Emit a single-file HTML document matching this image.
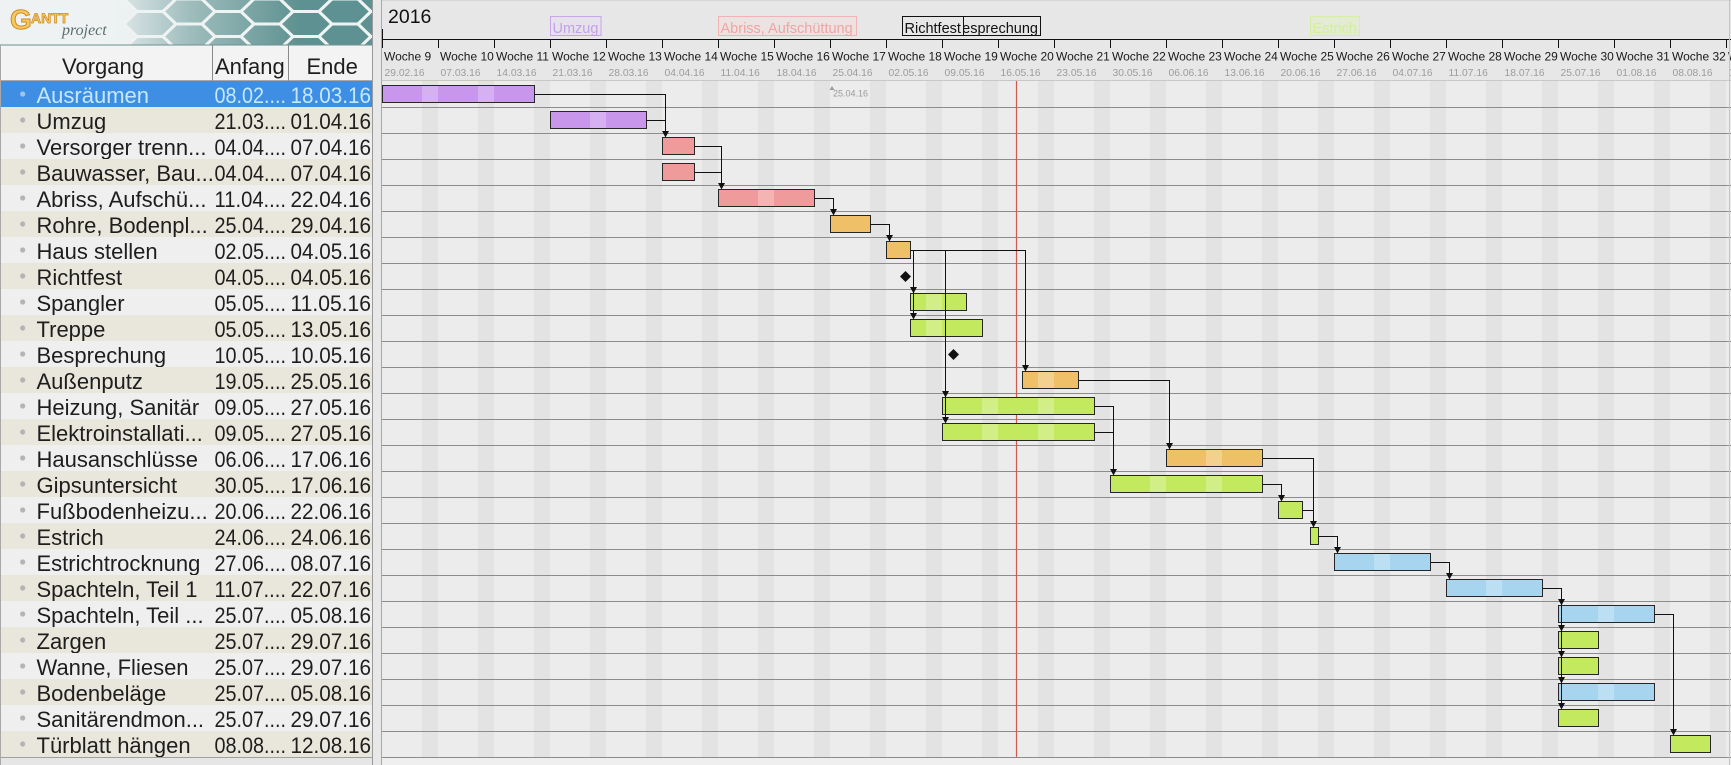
<!DOCTYPE html>
<html><head><meta charset="utf-8"><style>
html,body{margin:0;padding:0;background:#e9e9e9;overflow:hidden}
svg{display:block}
</style></head><body>
<svg width="1731" height="765" xmlns="http://www.w3.org/2000/svg" xmlns:xlink="http://www.w3.org/1999/xlink" font-family="'Liberation Sans', Arial, sans-serif">
<defs>
<linearGradient id="lg" x1="0" y1="0" x2="373" y2="0" gradientUnits="userSpaceOnUse">
<stop offset="0" stop-color="#eef2f2"/><stop offset="0.35" stop-color="#e2eaea"/><stop offset="1" stop-color="#c9d9d9"/></linearGradient>
<linearGradient id="fade" x1="100" y1="0" x2="300" y2="0" gradientUnits="userSpaceOnUse">
<stop offset="0" stop-color="#eef2f2" stop-opacity="1"/><stop offset="0.45" stop-color="#eef2f2" stop-opacity="0.45"/><stop offset="1" stop-color="#eef2f2" stop-opacity="0"/></linearGradient>
<polygon id="hx" points="-26,0 -13,-12.5 13,-12.5 26,0 13,12.5 -13,12.5"/>
<clipPath id="logoclip"><rect x="0" y="0" width="372" height="45"/></clipPath>
<clipPath id="bc">
<rect x="382" y="85" width="152" height="18"/>
<rect x="550" y="111" width="96" height="18"/>
<rect x="662" y="137" width="32" height="18"/>
<rect x="662" y="163" width="32" height="18"/>
<rect x="718" y="189" width="96" height="18"/>
<rect x="830" y="215" width="40" height="18"/>
<rect x="886" y="241" width="24" height="18"/>
<rect x="910" y="293" width="56" height="18"/>
<rect x="910" y="319" width="72" height="18"/>
<rect x="1022" y="371" width="56" height="18"/>
<rect x="942" y="397" width="152" height="18"/>
<rect x="942" y="423" width="152" height="18"/>
<rect x="1166" y="449" width="96" height="18"/>
<rect x="1110" y="475" width="152" height="18"/>
<rect x="1334" y="553" width="96" height="18"/>
<rect x="1446" y="579" width="96" height="18"/>
<rect x="1558" y="605" width="96" height="18"/>
<rect x="1558" y="683" width="96" height="18"/>
</clipPath>
<clipPath id="chartclip"><rect x="382" y="0" width="1349" height="765"/></clipPath>
</defs>

<!-- chart header -->
<rect x="373" y="0" width="1358" height="81" fill="#e7e7e7"/>
<line x1="373" y1="0.5" x2="1731" y2="0.5" stroke="#d6d6d6"/>
<!-- chart body -->
<rect x="382" y="81" width="1349" height="677" fill="#ececec"/>
<g fill="#e3e3e3">
<rect x="422" y="81" width="16" height="677"/><rect x="478" y="81" width="16" height="677"/><rect x="534" y="81" width="16" height="677"/><rect x="590" y="81" width="16" height="677"/><rect x="646" y="81" width="16" height="677"/><rect x="702" y="81" width="16" height="677"/><rect x="758" y="81" width="16" height="677"/><rect x="814" y="81" width="16" height="677"/><rect x="870" y="81" width="16" height="677"/><rect x="926" y="81" width="16" height="677"/><rect x="982" y="81" width="16" height="677"/><rect x="1038" y="81" width="16" height="677"/><rect x="1094" y="81" width="16" height="677"/><rect x="1150" y="81" width="16" height="677"/><rect x="1206" y="81" width="16" height="677"/><rect x="1262" y="81" width="16" height="677"/><rect x="1318" y="81" width="16" height="677"/><rect x="1374" y="81" width="16" height="677"/><rect x="1430" y="81" width="16" height="677"/><rect x="1486" y="81" width="16" height="677"/><rect x="1542" y="81" width="16" height="677"/><rect x="1598" y="81" width="16" height="677"/><rect x="1654" y="81" width="16" height="677"/><rect x="1710" y="81" width="16" height="677"/>
</g>
<rect x="382" y="758" width="1349" height="7" fill="#efefef"/>
<!-- row lines -->
<g stroke="#8c8c8c" stroke-width="1">
<line x1="382" y1="107.5" x2="1731" y2="107.5"/><line x1="382" y1="133.5" x2="1731" y2="133.5"/><line x1="382" y1="159.5" x2="1731" y2="159.5"/><line x1="382" y1="185.5" x2="1731" y2="185.5"/><line x1="382" y1="211.5" x2="1731" y2="211.5"/><line x1="382" y1="237.5" x2="1731" y2="237.5"/><line x1="382" y1="263.5" x2="1731" y2="263.5"/><line x1="382" y1="289.5" x2="1731" y2="289.5"/><line x1="382" y1="315.5" x2="1731" y2="315.5"/><line x1="382" y1="341.5" x2="1731" y2="341.5"/><line x1="382" y1="367.5" x2="1731" y2="367.5"/><line x1="382" y1="393.5" x2="1731" y2="393.5"/><line x1="382" y1="419.5" x2="1731" y2="419.5"/><line x1="382" y1="445.5" x2="1731" y2="445.5"/><line x1="382" y1="471.5" x2="1731" y2="471.5"/><line x1="382" y1="497.5" x2="1731" y2="497.5"/><line x1="382" y1="523.5" x2="1731" y2="523.5"/><line x1="382" y1="549.5" x2="1731" y2="549.5"/><line x1="382" y1="575.5" x2="1731" y2="575.5"/><line x1="382" y1="601.5" x2="1731" y2="601.5"/><line x1="382" y1="627.5" x2="1731" y2="627.5"/><line x1="382" y1="653.5" x2="1731" y2="653.5"/><line x1="382" y1="679.5" x2="1731" y2="679.5"/><line x1="382" y1="705.5" x2="1731" y2="705.5"/><line x1="382" y1="731.5" x2="1731" y2="731.5"/><line x1="382" y1="757.5" x2="1731" y2="757.5"/>
</g>
<line x1="382" y1="80.5" x2="1731" y2="80.5" stroke="#c8c8c8"/>

<!-- header timeline -->
<text x="388" y="23" font-size="19.5" fill="#111">2016</text>
<g stroke="#111" stroke-width="1">
<line x1="382" y1="39.5" x2="1731" y2="39.5"/>
<line x1="382.5" y1="29" x2="382.5" y2="48"/>
<line x1="438.5" y1="39.5" x2="438.5" y2="48"/><line x1="494.5" y1="39.5" x2="494.5" y2="48"/><line x1="550.5" y1="39.5" x2="550.5" y2="48"/><line x1="606.5" y1="39.5" x2="606.5" y2="48"/><line x1="662.5" y1="39.5" x2="662.5" y2="48"/><line x1="718.5" y1="39.5" x2="718.5" y2="48"/><line x1="774.5" y1="39.5" x2="774.5" y2="48"/><line x1="830.5" y1="39.5" x2="830.5" y2="48"/><line x1="886.5" y1="39.5" x2="886.5" y2="48"/><line x1="942.5" y1="39.5" x2="942.5" y2="48"/><line x1="998.5" y1="39.5" x2="998.5" y2="48"/><line x1="1054.5" y1="39.5" x2="1054.5" y2="48"/><line x1="1110.5" y1="39.5" x2="1110.5" y2="48"/><line x1="1166.5" y1="39.5" x2="1166.5" y2="48"/><line x1="1222.5" y1="39.5" x2="1222.5" y2="48"/><line x1="1278.5" y1="39.5" x2="1278.5" y2="48"/><line x1="1334.5" y1="39.5" x2="1334.5" y2="48"/><line x1="1390.5" y1="39.5" x2="1390.5" y2="48"/><line x1="1446.5" y1="39.5" x2="1446.5" y2="48"/><line x1="1502.5" y1="39.5" x2="1502.5" y2="48"/><line x1="1558.5" y1="39.5" x2="1558.5" y2="48"/><line x1="1614.5" y1="39.5" x2="1614.5" y2="48"/><line x1="1670.5" y1="39.5" x2="1670.5" y2="48"/><line x1="1726.5" y1="39.5" x2="1726.5" y2="48"/>
</g>
<g clip-path="url(#chartclip)">
<g font-size="12" fill="#1a1a1a">
<text x="384" y="60.5">Woche 9</text><text x="440" y="60.5">Woche 10</text><text x="496" y="60.5">Woche 11</text><text x="552" y="60.5">Woche 12</text><text x="608" y="60.5">Woche 13</text><text x="664" y="60.5">Woche 14</text><text x="720" y="60.5">Woche 15</text><text x="776" y="60.5">Woche 16</text><text x="832" y="60.5">Woche 17</text><text x="888" y="60.5">Woche 18</text><text x="944" y="60.5">Woche 19</text><text x="1000" y="60.5">Woche 20</text><text x="1056" y="60.5">Woche 21</text><text x="1112" y="60.5">Woche 22</text><text x="1168" y="60.5">Woche 23</text><text x="1224" y="60.5">Woche 24</text><text x="1280" y="60.5">Woche 25</text><text x="1336" y="60.5">Woche 26</text><text x="1392" y="60.5">Woche 27</text><text x="1448" y="60.5">Woche 28</text><text x="1504" y="60.5">Woche 29</text><text x="1560" y="60.5">Woche 30</text><text x="1616" y="60.5">Woche 31</text><text x="1672" y="60.5">Woche 32</text><text x="1728" y="60.5">Woche 33</text>
</g>
<g font-size="10.3" fill="#9c9c9c">
<text x="384.5" y="76">29.02.16</text><text x="440.5" y="76">07.03.16</text><text x="496.5" y="76">14.03.16</text><text x="552.5" y="76">21.03.16</text><text x="608.5" y="76">28.03.16</text><text x="664.5" y="76">04.04.16</text><text x="720.5" y="76">11.04.16</text><text x="776.5" y="76">18.04.16</text><text x="832.5" y="76">25.04.16</text><text x="888.5" y="76">02.05.16</text><text x="944.5" y="76">09.05.16</text><text x="1000.5" y="76">16.05.16</text><text x="1056.5" y="76">23.05.16</text><text x="1112.5" y="76">30.05.16</text><text x="1168.5" y="76">06.06.16</text><text x="1224.5" y="76">13.06.16</text><text x="1280.5" y="76">20.06.16</text><text x="1336.5" y="76">27.06.16</text><text x="1392.5" y="76">04.07.16</text><text x="1448.5" y="76">11.07.16</text><text x="1504.5" y="76">18.07.16</text><text x="1560.5" y="76">25.07.16</text><text x="1616.5" y="76">01.08.16</text><text x="1672.5" y="76">08.08.16</text><text x="1728.5" y="76">15.08.16</text>
</g>
</g>

<!-- header task labels -->
<g font-size="14.5">
<rect x="550.5" y="16.5" width="50.5" height="19" fill="#e6e2ec" stroke="#c9a6ea"/>
<text x="552.5" y="33" fill="#c4a0e6">Umzug</text>
<rect x="718.5" y="16.5" width="138" height="19" fill="#ece2e2" stroke="#f0b4b4"/>
<text x="720.5" y="33" fill="#f0a4a4">Abriss, Aufschüttung</text>
<rect x="950.5" y="16.5" width="90" height="19" fill="#e7e7e7" stroke="#111"/>
<text x="952.5" y="33" fill="#111">Besprechung</text>
<rect x="902.5" y="16.5" width="61" height="19" fill="#e7e7e7" stroke="#111"/>
<text x="904.5" y="33" fill="#111">Richtfest</text>
<rect x="1310.5" y="16.5" width="49" height="19" fill="#e3ebd3" stroke="#d6eea6"/>
<text x="1312.5" y="33" fill="#d2f09c">Estrich</text>
</g>

<!-- 25.04.16 marker -->
<polygon points="829.5,90 832,86 834.5,90" fill="#9a9a9a"/>
<text x="833" y="96.5" font-size="9" fill="#9a9a9a">25.04.16</text>

<!-- today line -->
<line x1="1016.5" y1="81" x2="1016.5" y2="757" stroke="#cf5a4e" stroke-width="1.2"/>

<!-- bars fill -->
<g>
<rect x="382" y="85" width="152" height="18" fill="#c897ec"/>
<rect x="550" y="111" width="96" height="18" fill="#c897ec"/>
<rect x="662" y="137" width="32" height="18" fill="#f09b9b"/>
<rect x="662" y="163" width="32" height="18" fill="#f09b9b"/>
<rect x="718" y="189" width="96" height="18" fill="#f09b9b"/>
<rect x="830" y="215" width="40" height="18" fill="#f0c068"/>
<rect x="886" y="241" width="24" height="18" fill="#f0c068"/>
<rect x="910" y="293" width="56" height="18" fill="#c3ea5f"/>
<rect x="910" y="319" width="72" height="18" fill="#c3ea5f"/>
<rect x="1022" y="371" width="56" height="18" fill="#f0c068"/>
<rect x="942" y="397" width="152" height="18" fill="#c3ea5f"/>
<rect x="942" y="423" width="152" height="18" fill="#c3ea5f"/>
<rect x="1166" y="449" width="96" height="18" fill="#f0c068"/>
<rect x="1110" y="475" width="152" height="18" fill="#c3ea5f"/>
<rect x="1278" y="501" width="24" height="18" fill="#c3ea5f"/>
<rect x="1310" y="527" width="8" height="18" fill="#c3ea5f"/>
<rect x="1334" y="553" width="96" height="18" fill="#a7d5ef"/>
<rect x="1446" y="579" width="96" height="18" fill="#a7d5ef"/>
<rect x="1558" y="605" width="96" height="18" fill="#a7d5ef"/>
<rect x="1558" y="631" width="40" height="18" fill="#c3ea5f"/>
<rect x="1558" y="657" width="40" height="18" fill="#c3ea5f"/>
<rect x="1558" y="683" width="96" height="18" fill="#a7d5ef"/>
<rect x="1558" y="709" width="40" height="18" fill="#c3ea5f"/>
<rect x="1670" y="735" width="40" height="18" fill="#c3ea5f"/>
</g>
<g clip-path="url(#bc)" fill="#ffffff" fill-opacity="0.25">
<rect x="422" y="81" width="16" height="677"/><rect x="478" y="81" width="16" height="677"/><rect x="590" y="81" width="16" height="677"/><rect x="758" y="81" width="16" height="677"/><rect x="926" y="81" width="16" height="677"/><rect x="982" y="81" width="16" height="677"/><rect x="1038" y="81" width="16" height="677"/><rect x="1150" y="81" width="16" height="677"/><rect x="1206" y="81" width="16" height="677"/><rect x="1374" y="81" width="16" height="677"/><rect x="1486" y="81" width="16" height="677"/><rect x="1598" y="81" width="16" height="677"/>
</g>
<g fill="none" stroke="#262626" stroke-width="1">
<rect x="382.5" y="85.5" width="152" height="17"/>
<rect x="550.5" y="111.5" width="96" height="17"/>
<rect x="662.5" y="137.5" width="32" height="17"/>
<rect x="662.5" y="163.5" width="32" height="17"/>
<rect x="718.5" y="189.5" width="96" height="17"/>
<rect x="830.5" y="215.5" width="40" height="17"/>
<rect x="886.5" y="241.5" width="24" height="17"/>
<rect x="910.5" y="293.5" width="56" height="17"/>
<rect x="910.5" y="319.5" width="72" height="17"/>
<rect x="1022.5" y="371.5" width="56" height="17"/>
<rect x="942.5" y="397.5" width="152" height="17"/>
<rect x="942.5" y="423.5" width="152" height="17"/>
<rect x="1166.5" y="449.5" width="96" height="17"/>
<rect x="1110.5" y="475.5" width="152" height="17"/>
<rect x="1278.5" y="501.5" width="24" height="17"/>
<rect x="1310.5" y="527.5" width="8" height="17"/>
<rect x="1334.5" y="553.5" width="96" height="17"/>
<rect x="1446.5" y="579.5" width="96" height="17"/>
<rect x="1558.5" y="605.5" width="96" height="17"/>
<rect x="1558.5" y="631.5" width="40" height="17"/>
<rect x="1558.5" y="657.5" width="40" height="17"/>
<rect x="1558.5" y="683.5" width="96" height="17"/>
<rect x="1558.5" y="709.5" width="40" height="17"/>
<rect x="1670.5" y="735.5" width="40" height="17"/>
</g>

<!-- dependencies -->
<g fill="none" stroke="#111" stroke-width="1">
<path d="M534.5,94.5H665.5V132"/>
<path d="M646.5,120.5H665.5"/>
<path d="M694.5,146.5H721.5V184"/>
<path d="M694.5,172.5H721.5"/>
<path d="M814.5,198.5H833.5V210"/>
<path d="M870.5,224.5H889.5V236"/>
<path d="M910.5,250.5H1025.5V366"/>
<path d="M913.5,250.5V314"/>
<path d="M945.5,250.5V418"/>
<path d="M1078.5,380.5H1169.5V444"/>
<path d="M1094.5,406.5H1113.5V470"/>
<path d="M1094.5,432.5H1113.5"/>
<path d="M1262.5,484.5H1281.5V496"/>
<path d="M1262.5,458.5H1313.5V522"/>
<path d="M1302.5,510.5H1313.5"/>
<path d="M1318.5,536.5H1337.5V548"/>
<path d="M1430.5,562.5H1449.5V574"/>
<path d="M1542.5,588.5H1561.5V704"/>
<path d="M1654.5,614.5H1673.5V730"/>
</g>
<g fill="#111">
<polygon points="662,131 669,131 665.5,137.5"/>
<polygon points="718,183 725,183 721.5,189.5"/>
<polygon points="830,209 837,209 833.5,215.5"/>
<polygon points="886,235 893,235 889.5,241.5"/>
<polygon points="910,287 917,287 913.5,293.5"/>
<polygon points="910,313 917,313 913.5,319.5"/>
<polygon points="1022,365 1029,365 1025.5,371.5"/>
<polygon points="942,391 949,391 945.5,397.5"/>
<polygon points="942,417 949,417 945.5,423.5"/>
<polygon points="1166,443 1173,443 1169.5,449.5"/>
<polygon points="1110,469 1117,469 1113.5,475.5"/>
<polygon points="1278,495 1285,495 1281.5,501.5"/>
<polygon points="1310,521 1317,521 1313.5,527.5"/>
<polygon points="1334,547 1341,547 1337.5,553.5"/>
<polygon points="1446,573 1453,573 1449.5,579.5"/>
<polygon points="1558,599 1565,599 1561.5,605.5"/>
<polygon points="1558,625 1565,625 1561.5,631.5"/>
<polygon points="1558,651 1565,651 1561.5,657.5"/>
<polygon points="1558,677 1565,677 1561.5,683.5"/>
<polygon points="1558,703 1565,703 1561.5,709.5"/>
<polygon points="1670,729 1677,729 1673.5,735.5"/>
</g>
<!-- milestones -->
<g fill="#111">
<polygon points="905.5,271 911,276.5 905.5,282 900,276.5"/>
<polygon points="953.5,349 959,354.5 953.5,360 948,354.5"/>
</g>
<line x1="1729.5" y1="0" x2="1729.5" y2="765" stroke="#c4c4c4"/>

<!-- separator strip -->
<rect x="372" y="0" width="10" height="765" fill="#e8e8e8"/>
<line x1="381.5" y1="0" x2="381.5" y2="765" stroke="#a8a8a8"/>
<line x1="372.5" y1="0" x2="372.5" y2="765" stroke="#9a9a9a"/>

<!-- left panel: logo -->
<g clip-path="url(#logoclip)">
<rect x="0" y="0" width="372" height="45" fill="url(#lg)"/>
<g fill="#5e9191" stroke="#eef3f3" stroke-width="3">
<use xlink:href="#hx" x="150" y="-1"/><use xlink:href="#hx" x="150" y="24"/><use xlink:href="#hx" x="150" y="49"/>
<use xlink:href="#hx" x="189" y="11.5"/><use xlink:href="#hx" x="189" y="36.5"/>
<use xlink:href="#hx" x="228" y="-1"/><use xlink:href="#hx" x="228" y="24"/><use xlink:href="#hx" x="228" y="49"/>
<use xlink:href="#hx" x="267" y="11.5"/><use xlink:href="#hx" x="267" y="36.5"/>
<use xlink:href="#hx" x="306" y="-1"/><use xlink:href="#hx" x="306" y="24"/><use xlink:href="#hx" x="306" y="49"/>
<use xlink:href="#hx" x="345" y="11.5"/><use xlink:href="#hx" x="345" y="36.5"/>
<use xlink:href="#hx" x="384" y="-1"/><use xlink:href="#hx" x="384" y="24"/><use xlink:href="#hx" x="384" y="49"/>
</g>
<rect x="0" y="0" width="372" height="45" fill="url(#fade)"/>
<text x="10" y="29" font-size="28" font-weight="bold" fill="#f6c860" stroke="#d08a20" stroke-width="1">G</text>
<text x="31" y="23" font-size="14" font-weight="bold" fill="#f6c860" stroke="#d08a20" stroke-width="0.7">ANTT</text>
<text x="62" y="35" font-size="16" font-style="italic" font-family="'Liberation Serif', serif" fill="#5c6e6e">project</text>
</g>
<line x1="0" y1="45" x2="372" y2="45" stroke="#6d8f8f"/>

<!-- left panel table header -->
<rect x="0" y="45.5" width="372" height="35" fill="#f3f3f3"/>
<line x1="0" y1="80.5" x2="372" y2="80.5" stroke="#a8a8a8"/>
<line x1="212.5" y1="45.5" x2="212.5" y2="80.5" stroke="#8a8a8a"/>
<line x1="288.5" y1="45.5" x2="288.5" y2="80.5" stroke="#8a8a8a"/>
<g font-size="22" fill="#1e1e1e">
<text x="62" y="74">Vorgang</text>
<text x="215" y="74">Anfang</text>
<text x="306.5" y="74">Ende</text>
</g>

<!-- rows -->
<g font-size="22" fill="#1e1e1e">
<rect x="1" y="81" width="371" height="26" fill="#3e8fe3"/>
<circle cx="22.7" cy="94" r="2.6" fill="#9cc6ee"/>
<text x="36.5" y="103" fill="#c4e8ff">Ausräumen</text><text x="214.5" y="103" fill="#c4e8ff" textLength="71.5" lengthAdjust="spacingAndGlyphs">08.02....</text><text x="290.5" y="103" fill="#c4e8ff" textLength="80.5" lengthAdjust="spacingAndGlyphs">18.03.16</text>

<rect x="1" y="107" width="371" height="26" fill="#e9e7db"/>
<circle cx="22.7" cy="120" r="2.6" fill="#b4b4b4"/>
<text x="36.5" y="129">Umzug</text><text x="214.5" y="129" textLength="71.5" lengthAdjust="spacingAndGlyphs">21.03....</text><text x="290.5" y="129" textLength="80.5" lengthAdjust="spacingAndGlyphs">01.04.16</text>

<rect x="1" y="133" width="371" height="26" fill="#efeff0"/>
<circle cx="22.7" cy="146" r="2.6" fill="#b4b4b4"/>
<text x="36.5" y="155">Versorger trenn...</text><text x="214.5" y="155" textLength="71.5" lengthAdjust="spacingAndGlyphs">04.04....</text><text x="290.5" y="155" textLength="80.5" lengthAdjust="spacingAndGlyphs">07.04.16</text>

<rect x="1" y="159" width="371" height="26" fill="#e9e7db"/>
<circle cx="22.7" cy="172" r="2.6" fill="#b4b4b4"/>
<text x="36.5" y="181">Bauwasser, Bau...</text><text x="214.5" y="181" textLength="71.5" lengthAdjust="spacingAndGlyphs">04.04....</text><text x="290.5" y="181" textLength="80.5" lengthAdjust="spacingAndGlyphs">07.04.16</text>

<rect x="1" y="185" width="371" height="26" fill="#efeff0"/>
<circle cx="22.7" cy="198" r="2.6" fill="#b4b4b4"/>
<text x="36.5" y="207">Abriss, Aufschü...</text><text x="214.5" y="207" textLength="71.5" lengthAdjust="spacingAndGlyphs">11.04....</text><text x="290.5" y="207" textLength="80.5" lengthAdjust="spacingAndGlyphs">22.04.16</text>

<rect x="1" y="211" width="371" height="26" fill="#e9e7db"/>
<circle cx="22.7" cy="224" r="2.6" fill="#b4b4b4"/>
<text x="36.5" y="233">Rohre, Bodenpl...</text><text x="214.5" y="233" textLength="71.5" lengthAdjust="spacingAndGlyphs">25.04....</text><text x="290.5" y="233" textLength="80.5" lengthAdjust="spacingAndGlyphs">29.04.16</text>

<rect x="1" y="237" width="371" height="26" fill="#efeff0"/>
<circle cx="22.7" cy="250" r="2.6" fill="#b4b4b4"/>
<text x="36.5" y="259">Haus stellen</text><text x="214.5" y="259" textLength="71.5" lengthAdjust="spacingAndGlyphs">02.05....</text><text x="290.5" y="259" textLength="80.5" lengthAdjust="spacingAndGlyphs">04.05.16</text>

<rect x="1" y="263" width="371" height="26" fill="#e9e7db"/>
<circle cx="22.7" cy="276" r="2.6" fill="#b4b4b4"/>
<text x="36.5" y="285">Richtfest</text><text x="214.5" y="285" textLength="71.5" lengthAdjust="spacingAndGlyphs">04.05....</text><text x="290.5" y="285" textLength="80.5" lengthAdjust="spacingAndGlyphs">04.05.16</text>

<rect x="1" y="289" width="371" height="26" fill="#efeff0"/>
<circle cx="22.7" cy="302" r="2.6" fill="#b4b4b4"/>
<text x="36.5" y="311">Spangler</text><text x="214.5" y="311" textLength="71.5" lengthAdjust="spacingAndGlyphs">05.05....</text><text x="290.5" y="311" textLength="80.5" lengthAdjust="spacingAndGlyphs">11.05.16</text>

<rect x="1" y="315" width="371" height="26" fill="#e9e7db"/>
<circle cx="22.7" cy="328" r="2.6" fill="#b4b4b4"/>
<text x="36.5" y="337">Treppe</text><text x="214.5" y="337" textLength="71.5" lengthAdjust="spacingAndGlyphs">05.05....</text><text x="290.5" y="337" textLength="80.5" lengthAdjust="spacingAndGlyphs">13.05.16</text>

<rect x="1" y="341" width="371" height="26" fill="#efeff0"/>
<circle cx="22.7" cy="354" r="2.6" fill="#b4b4b4"/>
<text x="36.5" y="363">Besprechung</text><text x="214.5" y="363" textLength="71.5" lengthAdjust="spacingAndGlyphs">10.05....</text><text x="290.5" y="363" textLength="80.5" lengthAdjust="spacingAndGlyphs">10.05.16</text>

<rect x="1" y="367" width="371" height="26" fill="#e9e7db"/>
<circle cx="22.7" cy="380" r="2.6" fill="#b4b4b4"/>
<text x="36.5" y="389">Außenputz</text><text x="214.5" y="389" textLength="71.5" lengthAdjust="spacingAndGlyphs">19.05....</text><text x="290.5" y="389" textLength="80.5" lengthAdjust="spacingAndGlyphs">25.05.16</text>

<rect x="1" y="393" width="371" height="26" fill="#efeff0"/>
<circle cx="22.7" cy="406" r="2.6" fill="#b4b4b4"/>
<text x="36.5" y="415">Heizung, Sanitär</text><text x="214.5" y="415" textLength="71.5" lengthAdjust="spacingAndGlyphs">09.05....</text><text x="290.5" y="415" textLength="80.5" lengthAdjust="spacingAndGlyphs">27.05.16</text>

<rect x="1" y="419" width="371" height="26" fill="#e9e7db"/>
<circle cx="22.7" cy="432" r="2.6" fill="#b4b4b4"/>
<text x="36.5" y="441">Elektroinstallati...</text><text x="214.5" y="441" textLength="71.5" lengthAdjust="spacingAndGlyphs">09.05....</text><text x="290.5" y="441" textLength="80.5" lengthAdjust="spacingAndGlyphs">27.05.16</text>

<rect x="1" y="445" width="371" height="26" fill="#efeff0"/>
<circle cx="22.7" cy="458" r="2.6" fill="#b4b4b4"/>
<text x="36.5" y="467">Hausanschlüsse</text><text x="214.5" y="467" textLength="71.5" lengthAdjust="spacingAndGlyphs">06.06....</text><text x="290.5" y="467" textLength="80.5" lengthAdjust="spacingAndGlyphs">17.06.16</text>

<rect x="1" y="471" width="371" height="26" fill="#e9e7db"/>
<circle cx="22.7" cy="484" r="2.6" fill="#b4b4b4"/>
<text x="36.5" y="493">Gipsuntersicht</text><text x="214.5" y="493" textLength="71.5" lengthAdjust="spacingAndGlyphs">30.05....</text><text x="290.5" y="493" textLength="80.5" lengthAdjust="spacingAndGlyphs">17.06.16</text>

<rect x="1" y="497" width="371" height="26" fill="#efeff0"/>
<circle cx="22.7" cy="510" r="2.6" fill="#b4b4b4"/>
<text x="36.5" y="519">Fußbodenheizu...</text><text x="214.5" y="519" textLength="71.5" lengthAdjust="spacingAndGlyphs">20.06....</text><text x="290.5" y="519" textLength="80.5" lengthAdjust="spacingAndGlyphs">22.06.16</text>

<rect x="1" y="523" width="371" height="26" fill="#e9e7db"/>
<circle cx="22.7" cy="536" r="2.6" fill="#b4b4b4"/>
<text x="36.5" y="545">Estrich</text><text x="214.5" y="545" textLength="71.5" lengthAdjust="spacingAndGlyphs">24.06....</text><text x="290.5" y="545" textLength="80.5" lengthAdjust="spacingAndGlyphs">24.06.16</text>

<rect x="1" y="549" width="371" height="26" fill="#efeff0"/>
<circle cx="22.7" cy="562" r="2.6" fill="#b4b4b4"/>
<text x="36.5" y="571">Estrichtrocknung</text><text x="214.5" y="571" textLength="71.5" lengthAdjust="spacingAndGlyphs">27.06....</text><text x="290.5" y="571" textLength="80.5" lengthAdjust="spacingAndGlyphs">08.07.16</text>

<rect x="1" y="575" width="371" height="26" fill="#e9e7db"/>
<circle cx="22.7" cy="588" r="2.6" fill="#b4b4b4"/>
<text x="36.5" y="597">Spachteln, Teil 1</text><text x="214.5" y="597" textLength="71.5" lengthAdjust="spacingAndGlyphs">11.07....</text><text x="290.5" y="597" textLength="80.5" lengthAdjust="spacingAndGlyphs">22.07.16</text>

<rect x="1" y="601" width="371" height="26" fill="#efeff0"/>
<circle cx="22.7" cy="614" r="2.6" fill="#b4b4b4"/>
<text x="36.5" y="623">Spachteln, Teil ...</text><text x="214.5" y="623" textLength="71.5" lengthAdjust="spacingAndGlyphs">25.07....</text><text x="290.5" y="623" textLength="80.5" lengthAdjust="spacingAndGlyphs">05.08.16</text>

<rect x="1" y="627" width="371" height="26" fill="#e9e7db"/>
<circle cx="22.7" cy="640" r="2.6" fill="#b4b4b4"/>
<text x="36.5" y="649">Zargen</text><text x="214.5" y="649" textLength="71.5" lengthAdjust="spacingAndGlyphs">25.07....</text><text x="290.5" y="649" textLength="80.5" lengthAdjust="spacingAndGlyphs">29.07.16</text>

<rect x="1" y="653" width="371" height="26" fill="#efeff0"/>
<circle cx="22.7" cy="666" r="2.6" fill="#b4b4b4"/>
<text x="36.5" y="675">Wanne, Fliesen</text><text x="214.5" y="675" textLength="71.5" lengthAdjust="spacingAndGlyphs">25.07....</text><text x="290.5" y="675" textLength="80.5" lengthAdjust="spacingAndGlyphs">29.07.16</text>

<rect x="1" y="679" width="371" height="26" fill="#e9e7db"/>
<circle cx="22.7" cy="692" r="2.6" fill="#b4b4b4"/>
<text x="36.5" y="701">Bodenbeläge</text><text x="214.5" y="701" textLength="71.5" lengthAdjust="spacingAndGlyphs">25.07....</text><text x="290.5" y="701" textLength="80.5" lengthAdjust="spacingAndGlyphs">05.08.16</text>

<rect x="1" y="705" width="371" height="26" fill="#efeff0"/>
<circle cx="22.7" cy="718" r="2.6" fill="#b4b4b4"/>
<text x="36.5" y="727">Sanitärendmon...</text><text x="214.5" y="727" textLength="71.5" lengthAdjust="spacingAndGlyphs">25.07....</text><text x="290.5" y="727" textLength="80.5" lengthAdjust="spacingAndGlyphs">29.07.16</text>

<rect x="1" y="731" width="371" height="26" fill="#e9e7db"/>
<circle cx="22.7" cy="744" r="2.6" fill="#b4b4b4"/>
<text x="36.5" y="753">Türblatt hängen</text><text x="214.5" y="753" textLength="71.5" lengthAdjust="spacingAndGlyphs">08.08....</text><text x="290.5" y="753" textLength="80.5" lengthAdjust="spacingAndGlyphs">12.08.16</text>
</g>
<rect x="0" y="757" width="372" height="8" fill="#e6e6e6"/>
<line x1="0" y1="757.5" x2="372" y2="757.5" stroke="#a0a0a0"/>
<line x1="0.5" y1="45" x2="0.5" y2="765" stroke="#a8a8a8"/>
</svg>
</body></html>
